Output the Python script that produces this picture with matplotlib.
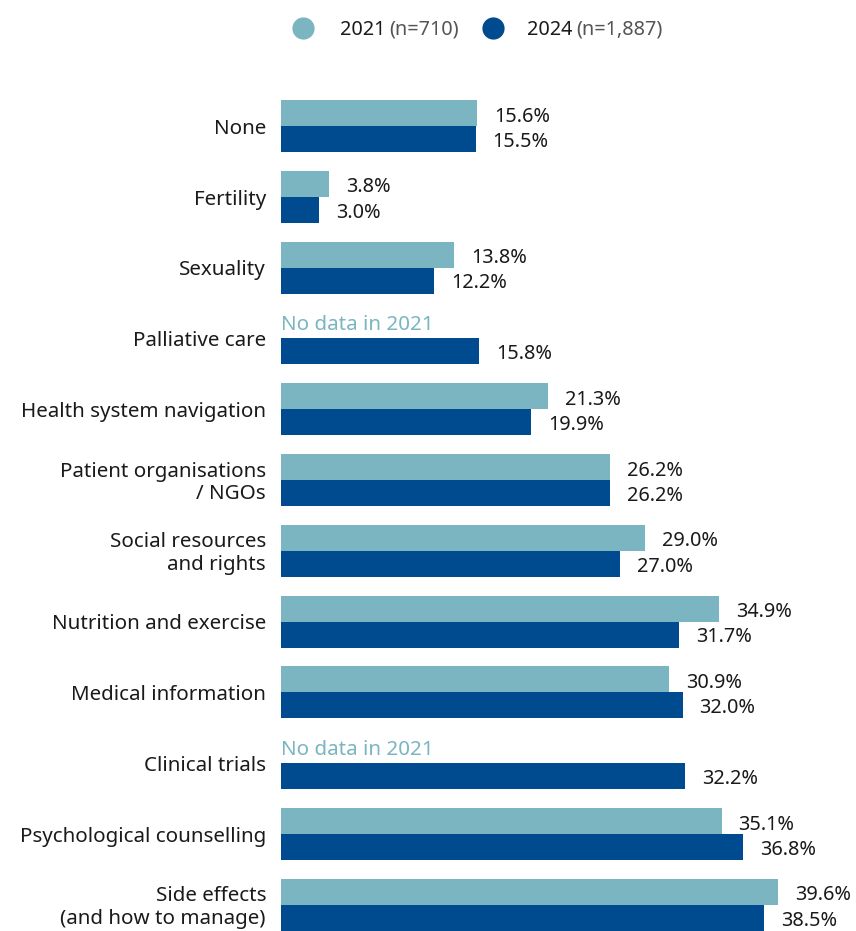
import matplotlib
matplotlib.use("Agg")
import matplotlib.pyplot as plt
import numpy as np

categories = ["None", "Fertility", "Sexuality", "Palliative care", "Health system navigation",
              "Patient organisations\n/ NGOs", "Social resources\nand rights", "Nutrition and exercise",
              "Medical information", "Clinical trials", "Psychological counselling",
              "Side effects\n(and how to manage)"]
v2021 = [15.6, 3.8, 13.8, None, 21.3, 26.2, 29.0, 34.9, 30.9, None, 35.1, 39.6]
v2024 = [15.5, 3.0, 12.2, 15.8, 19.9, 26.2, 27.0, 31.7, 32.0, 32.2, 36.8, 38.5]
legend_years = ["2021", "2024"]
legend_n = ["(n=710)", "(n=1,887)"]

c21 = "#7AB5C1"
c24 = "#004A8F"
plt.rcParams['font.family'] = ['Noto Sans', 'DejaVu Sans']

W, H = 856, 931
fig = plt.figure(figsize=(W/100, H/100), dpi=100)
x0 = 281
ax = fig.add_axes([x0/W, 0, 1 - x0/W, 1])
pxper = 12.55
ax.set_xlim(0, (W - x0)/pxper)
step = 70.8
ax.set_ylim((H - 126)/step, -126/step)
ax.axis('off')

fs = 14.3
fs_cat = 14.8
bh = 26/step
off = 13/step
for i, cat in enumerate(categories):
    a, b = v2021[i], v2024[i]
    if a is not None:
        ax.barh(i - off, a, height=bh, color=c21)
        ax.text(a + 17/pxper, i - off + 0.05, f"{a:.1f}%", va='center', ha='left', fontsize=fs, color='#1a1a1a')
    else:
        ax.text(0, i - off, "No data in 2021", va='center', ha='left', fontsize=fs_cat, color=c21)
    ax.barh(i + off, b, height=bh, color=c24)
    ax.text(b + 17/pxper, i + off + 0.04, f"{b:.1f}%", va='center', ha='left', fontsize=fs, color='#1a1a1a')
    ax.text(-15/pxper, i + 0.04, cat, va='center', ha='right', fontsize=fs_cat, color='#1a1a1a',
            linespacing=1.17, clip_on=False)

# legend
ly = 1 - 30/H
for xc, xt, col, yr, n in [(303, 340, c21, legend_years[0], legend_n[0]),
                           (493, 527, c24, legend_years[1], legend_n[1])]:
    fig.add_artist(plt.Line2D([xc/W], [1 - 28/H], marker='o', markersize=16, color=col,
                              markeredgewidth=0, transform=fig.transFigure))
    t = fig.text(xt/W, ly, yr, va='center', ha='left', fontsize=fs, color='#1a1a1a', fontweight='medium')
    fig.canvas.draw()
    bb = t.get_window_extent()
    fig.text((bb.x1 + 4)/W, ly, n, va='center', ha='left', fontsize=fs, color='#555555')

fig.savefig("out.png", dpi=100)
